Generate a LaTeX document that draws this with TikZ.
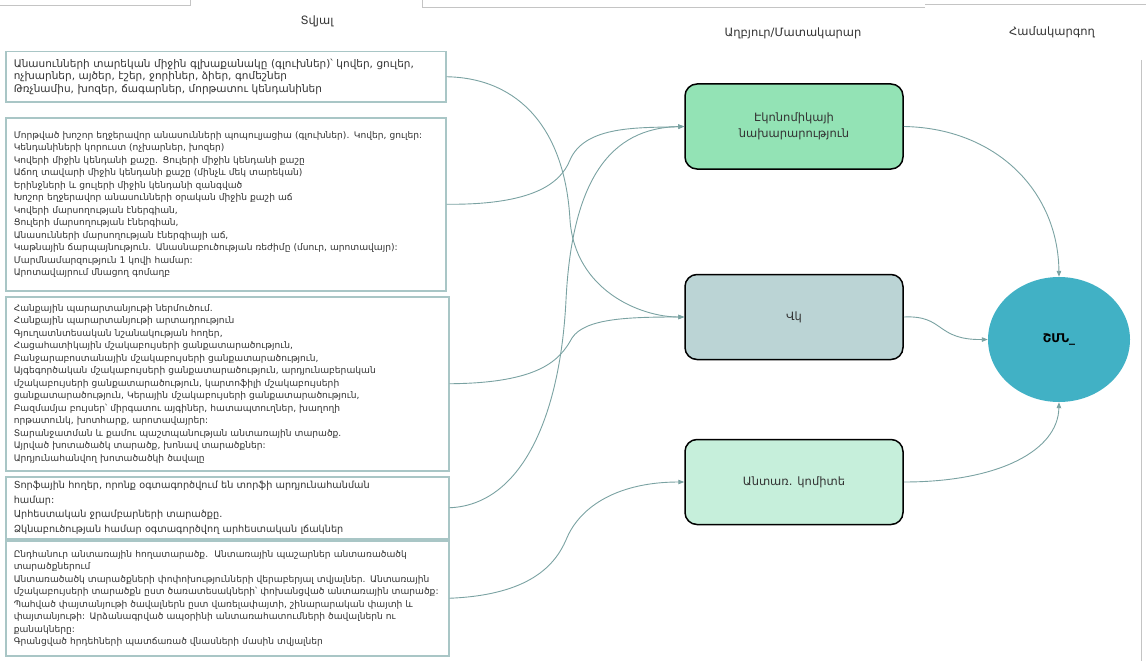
\documentclass[tikz,border=0pt]{standalone}
\usepackage{fontspec}
\setmainfont{DejaVu Sans}
\usetikzlibrary{arrows.meta,shapes.geometric}

\definecolor{boxline}{HTML}{A9C6C6}
\definecolor{wire}{HTML}{7AA2A2}
\definecolor{ink}{HTML}{333333}
\definecolor{framegray}{HTML}{C4C4C4}
\definecolor{ministry}{HTML}{93E3B5}
\definecolor{statcom}{HTML}{BBD4D5}
\definecolor{forest}{HTML}{C6EFDB}
\definecolor{envmin}{HTML}{41B1C5}

\tikzset{
  databox/.style={draw=boxline, line width=1.5pt, fill=white, anchor=north west,
    inner xsep=8pt, inner ysep=0pt, align=left, text=ink},
  agency/.style={draw=black, line width=1.5pt, rounded corners=12pt,
    minimum width=218pt, minimum height=85pt, align=center, text=ink,
    font=\fontsize{11.5}{16}\selectfont},
  header/.style={text=ink, font=\fontsize{11.5}{14}\selectfont},
  flow/.style={draw=wire, line width=0.9pt, -{Triangle[length=6pt,width=4.5pt]}},
  frame/.style={draw=framegray, line width=1pt}
}

\begin{document}
\begin{tikzpicture}[x=1pt,y=-1pt]
\useasboundingbox (0,0) rectangle (1146,661);

% window edges around the chart
\draw[frame] (0,6) -- (190,6) -- (190,0);
\draw[frame] (422,0) -- (422,8) -- (925,8);
\draw[frame] (925,5) -- (1146,5);
\draw[frame] (1141,60) -- (1141,661);

% column headings
\node[header] (hdata) at (317,21) {Տվյալ};
\node[header] (hsrc) at (793,33) {Աղբյուր/Մատակարար};
\node[header] (hcoord) at (1052,32) {Համակարգող};

% data boxes
\node[databox, text width=424pt, minimum height=50pt,
  font=\fontsize{10.5}{12.5}\selectfont] (b1) at (5,51)
{Անասունների տարեկան միջին գլխաքանակը (գլուխներ)՝ կովեր, ցուլեր,\\
ոչխարներ, այծեր, էշեր, ջորիներ, ձիեր, գոմեշներ\\
Թռչնամիս, խոզեր, ճագարներ, մորթատու կենդանիներ};

\node[databox, text width=424pt, minimum height=173pt,
  font=\fontsize{9.1}{12.5}\selectfont] (b2) at (5,117)
{Մորթված խոշոր եղջերավոր անասունների պոպուլյացիա (գլուխներ). Կովեր, ցուլեր:\\
Կենդանիների կորուստ (ոչխարներ, խոզեր)\\
Կովերի միջին կենդանի քաշը. Ցուլերի միջին կենդանի քաշը\\
Աճող տավարի միջին կենդանի քաշը (մինչև մեկ տարեկան)\\
Երինջների և ցուլերի միջին կենդանի զանգված\\
Խոշոր եղջերավոր անասունների օրական միջին քաշի աճ\\
Կովերի մարսողության էներգիան,\\
Ցուլերի մարսողության էներգիան,\\
Անասունների մարսողության էներգիայի աճ,\\
Կաթնային ճարպայնություն. Անասնաբուծության ռեժիմը (մսուր, արոտավայր):\\
Մարմնամարզություն 1 կովի համար:\\
Արոտավայրում մնացող գոմաղբ};

\node[databox, text width=427pt, minimum height=174pt,
  font=\fontsize{9.1}{12.5}\selectfont] (b3) at (5,296)
{Հանքային պարարտանյութի ներմուծում.\\
Հանքային պարարտանյութի արտադրություն\\
Գյուղատնտեսական նշանակության հողեր,\\
Հացահատիկային մշակաբույսերի ցանքատարածություն,\\
Բանջարաբոստանային մշակաբույսերի ցանքատարածություն,\\
Այգեգործական մշակաբույսերի ցանքատարածություն, արդյունաբերական\\
մշակաբույսերի ցանքատարածություն, կարտոֆիլի մշակաբույսերի\\
ցանքատարածություն, Կերային մշակաբույսերի ցանքատարածություն,\\
Բազմամյա բույսեր՝ միրգատու այգիներ, հատապտուղներ, խաղողի\\
որթատունկ, խոտհարք, արոտավայրեր:\\
Տարանջատման և քամու պաշտպանության անտառային տարածք.\\
Այրված խոտածածկ տարածք, խոնավ տարածքներ:\\
Արդյունահանվող խոտածածկի ծավալը};

\node[databox, text width=427pt, minimum height=62pt,
  font=\fontsize{9.7}{14.5}\selectfont] (b4) at (5,476)
{Տորֆային հողեր, որոնք օգտագործվում են տորֆի արդյունահանման\\
համար:\\
Արհեստական ջրամբարների տարածքը.\\
Ձկնաբուծության համար օգտագործվող արհեստական լճակներ};

\node[databox, text width=427pt, minimum height=115pt,
  font=\fontsize{9.1}{12.5}\selectfont] (b5) at (5,540)
{Ընդհանուր անտառային հողատարածք.\ \ Անտառային պաշարներ անտառածածկ\\
տարածքներում\\
Անտառածածկ տարածքների փոփոխությունների վերաբերյալ տվյալներ. Անտառային\\
մշակաբույսերի տարածքն ըստ ծառատեսակների՝ փոխանցված անտառային տարածք:\\
Պահված փայտանյութի ծավալներն ըստ վառելափայտի, շինարարական փայտի և\\
փայտանյութի: Արձանագրված ապօրինի անտառահատումների ծավալներն ու\\
քանակները:\\
Գրանցված հրդեհների պատճառած վնասների մասին տվյալներ};

% providers
\node[agency, fill=ministry] (econ) at (794,126.5) {Էկոնոմիկայի\\նախարարություն};
\node[agency, fill=statcom] (vk) at (794,317) {Վկ};
\node[agency, fill=forest] (fc) at (794,482) {Անտառ. կոմիտե};

% coordinator
\node[ellipse, fill=envmin, minimum width=142pt, minimum height=125pt,
  font=\bfseries\fontsize{12}{14}\selectfont, text=black] (env) at (1059,339.5) {ՇՄՆ\_};

% data flows to providers
\draw[flow] (b1.east) .. controls (520,78) and (565,130) .. (570,220)
  .. controls (575,290) and (640,317) .. (vk.west);
\draw[flow] (b2.east) .. controls (530,205) and (560,185) .. (570,160)
  .. controls (585,125) and (640,128) .. (econ.west);
\draw[flow] (b4.east) .. controls (520,505) and (560,420) .. (566,300)
  .. controls (572,180) and (610,128) .. (econ.west);
\draw[flow] (b3.east) .. controls (540,383) and (560,360) .. (572,338)
  .. controls (585,318) and (630,317) .. (vk.west);
\draw[flow] (b5.east) .. controls (530,595) and (555,565) .. (566,540)
  .. controls (580,505) and (620,482) .. (fc.west);

% providers to coordinator
\draw[flow] (econ.east) .. controls (995,128) and (1058,190) .. (env.north);
\draw[flow] (vk.east) .. controls (945,315) and (935,340) .. (env.west);
\draw[flow] (fc.east) .. controls (1000,482) and (1058,450) .. (env.south);
\end{tikzpicture}
\end{document}
